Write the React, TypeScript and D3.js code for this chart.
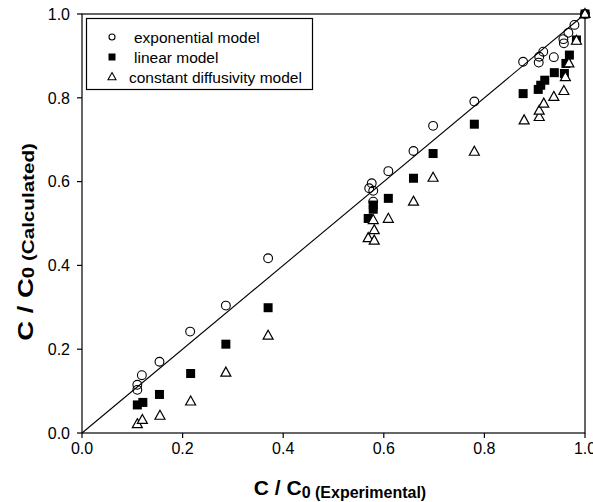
import React from "react";
import * as d3 from "d3";

type P = [number, number];

const exponentialModel: P[] = [
  [0.110, 0.103], [0.110, 0.115], [0.119, 0.138], [0.154, 0.170], [0.215, 0.242],
  [0.286, 0.304], [0.370, 0.417], [0.571, 0.584], [0.576, 0.596], [0.579, 0.578],
  [0.579, 0.552], [0.609, 0.625], [0.659, 0.673], [0.698, 0.733], [0.780, 0.791],
  [0.877, 0.886], [0.908, 0.884], [0.909, 0.898], [0.917, 0.910], [0.938, 0.897],
  [0.957, 0.940], [0.958, 0.930], [0.967, 0.955], [0.979, 0.974], [1.0, 1.0],
];

const linearModel: P[] = [
  [0.110, 0.067], [0.121, 0.073], [0.154, 0.092], [0.216, 0.142], [0.286, 0.212],
  [0.370, 0.299], [0.569, 0.512], [0.579, 0.534], [0.579, 0.544], [0.609, 0.560],
  [0.659, 0.608], [0.698, 0.667], [0.780, 0.737], [0.877, 0.810], [0.907, 0.820],
  [0.912, 0.830], [0.920, 0.842], [0.939, 0.860], [0.959, 0.858], [0.962, 0.882],
  [0.969, 0.902], [0.983, 0.938], [1.0, 1.0],
];

const constantModel: P[] = [
  [0.110, 0.021], [0.120, 0.031], [0.155, 0.041], [0.216, 0.075], [0.286, 0.144],
  [0.370, 0.232], [0.569, 0.465], [0.581, 0.459], [0.581, 0.484], [0.579, 0.508],
  [0.609, 0.511], [0.659, 0.552], [0.698, 0.609], [0.780, 0.671], [0.879, 0.746],
  [0.909, 0.754], [0.909, 0.769], [0.918, 0.786], [0.938, 0.802], [0.958, 0.816],
  [0.961, 0.849], [0.968, 0.882], [0.983, 0.936], [1.0, 1.0],
];

const tickValues = [0, 0.2, 0.4, 0.6, 0.8, 1.0];
const legendLabels = ["exponential model", "linear model", "constant diffusivity model"];

const W = 593;
const H = 502;
const left = 82, right = 585, top = 14, bottom = 433;
const font = "'Liberation Sans', Arial, Helvetica, sans-serif";

const x = d3.scaleLinear().domain([0, 1]).range([left, right]);
const y = d3.scaleLinear().domain([0, 1]).range([bottom, top]);

const tri = (cx: number, cy: number, s: number) => {
  const h = s * 0.9;
  return `M${cx},${cy - h * 0.62} L${cx + s / 2},${cy + h * 0.38} L${cx - s / 2},${cy + h * 0.38} Z`;
};

export default function App() {
  const line = d3.line<P>().x((d) => x(d[0])).y((d) => y(d[1]));
  return (
    <svg width={W} height={H} style={{ position: "absolute", left: 0, top: 0, background: "#fff" }}>
      <rect x={0} y={0} width={W} height={H} fill="#fff" />
      {/* frame */}
      <rect x={left} y={top} width={right - left} height={bottom - top} fill="none" stroke="#000" strokeWidth={1.2} />
      {/* diagonal */}
      <path d={line([[0, 0], [1, 1]]) || ""} stroke="#000" strokeWidth={1.1} fill="none" />
      {/* ticks */}
      {tickValues.map((t) => (
        <g key={"x" + t}>
          <line x1={x(t)} x2={x(t)} y1={bottom} y2={bottom + 5} stroke="#000" strokeWidth={1.2} />
          <text x={x(t)} y={454} textAnchor="middle" fontFamily={font} fontSize={16}>
            {d3.format(".1f")(t)}
          </text>
        </g>
      ))}
      {tickValues.map((t) => (
        <g key={"y" + t}>
          <line x1={left - 5} x2={left} y1={y(t)} y2={y(t)} stroke="#000" strokeWidth={1.2} />
          <text x={70} y={y(t)} dy="0.36em" textAnchor="end" fontFamily={font} fontSize={16}>
            {d3.format(".1f")(t)}
          </text>
        </g>
      ))}
      {/* data */}
      {linearModel.map((d, i) => (
        <rect key={"s" + i} x={x(d[0]) - 4.5} y={y(d[1]) - 4.5} width={9} height={9} fill="#000" />
      ))}
      {constantModel.map((d, i) => (
        <path key={"t" + i} d={tri(x(d[0]), y(d[1]), 10)} fill="#fff" stroke="#000" strokeWidth={1.2} />
      ))}
      {exponentialModel.map((d, i) => (
        <circle key={"c" + i} cx={x(d[0])} cy={y(d[1])} r={4.4} fill="none" stroke="#000" strokeWidth={1.1} />
      ))}
      {/* legend */}
      <rect x={86.5} y={18.5} width={226} height={71} fill="#fff" stroke="#000" strokeWidth={1.2} />
      <circle cx={112} cy={37} r={3} fill="none" stroke="#000" strokeWidth={1.1} />
      <rect x={108.5} y={53.5} width={7} height={7} fill="#000" />
      <path d={tri(112, 77, 8)} fill="#fff" stroke="#000" strokeWidth={1.1} />
      <text x={134} y={37} dy="0.36em" fontFamily={font} fontSize={15.5}>{legendLabels[0]}</text>
      <text x={134} y={57} dy="0.36em" fontFamily={font} fontSize={15.5}>{legendLabels[1]}</text>
      <text x={129} y={77} dy="0.36em" fontFamily={font} fontSize={15.5}>{legendLabels[2]}</text>
      {/* axis titles */}
      <text x={340} y={495} textAnchor="middle" fontFamily={font} fontWeight="bold">
        <tspan fontSize={21}>C / C</tspan>
        <tspan fontSize={16} dy={3}>0 (Experimental)</tspan>
      </text>
      <text transform="translate(33,242) rotate(-90) scale(1.25,1)" textAnchor="middle" fontFamily={font} fontWeight="bold">
        <tspan fontSize={22}>C / C</tspan>
        <tspan fontSize={16.5} dy={1}>0 (Calculated)</tspan>
      </text>
    </svg>
  );
}
